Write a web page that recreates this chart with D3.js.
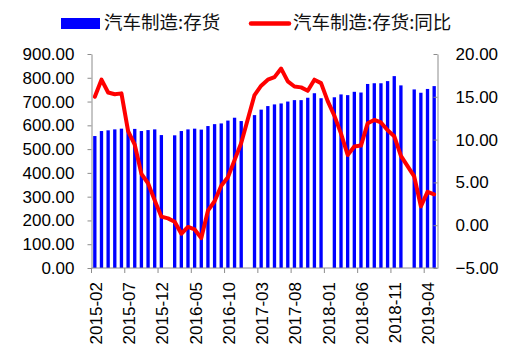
<!DOCTYPE html>
<html><head><meta charset="utf-8">
<script src="https://cdn.jsdelivr.net/npm/d3@7"></script>
<style>html,body{margin:0;padding:0;background:#fff;}svg{display:block;}</style>
</head><body>
<script>
const months = [
"2015-02","2015-03","2015-04","2015-05","2015-06","2015-07","2015-08","2015-09","2015-10","2015-11","2015-12",
"2016-01","2016-02","2016-03","2016-04","2016-05","2016-06","2016-07","2016-08","2016-09","2016-10","2016-11","2016-12",
"2017-01","2017-02","2017-03","2017-04","2017-05","2017-06","2017-07","2017-08","2017-09","2017-10","2017-11","2017-12",
"2018-01","2018-02","2018-03","2018-04","2018-05","2018-06","2018-07","2018-08","2018-09","2018-10","2018-11","2018-12",
"2019-01","2019-02","2019-03","2019-04","2019-05"];
const inventory = [
555,576,579,583,586,581,585,576,580,583,559,
null,558,576,583,586,582,597,605,608,620,632,618,
null,643,666,681,688,692,700,706,706,716,735,714,
null,718,730,727,741,738,774,777,777,786,807,768,
null,751,737,753,765];
const yoy = [
15.0,17.0,15.5,15.3,15.4,11.0,9.4,6.0,4.9,2.9,1.0,
0.8,0.4,-1.0,-0.2,-0.5,-1.5,1.7,2.8,4.6,5.6,7.6,9.6,
12.4,15.2,16.3,17.0,17.3,18.3,16.8,16.2,16.1,15.7,17.0,16.6,
14.5,12.8,10.7,8.2,9.2,9.3,11.9,12.3,12.0,11.1,10.4,8.1,
6.9,5.7,2.2,3.9,3.6];
const leftTicks = [0,100,200,300,400,500,600,700,800,900];
const rightTicks = [-5,0,5,10,15,20];
const xTickLabels = ["2015-02","2015-07","2015-12","2016-05","2016-10","2017-03","2017-08","2018-01","2018-06","2018-11","2019-04"];
const seriesNames = ["汽车制造:存货","汽车制造:存货:同比"];

const W = 510, H = 361;
const svg = d3.select("body").append("svg").attr("width", W).attr("height", H);
svg.append("rect").attr("width", W).attr("height", H).attr("fill", "#fff");

const x0 = 91.5, x1 = 437.5, yTop = 54, yBot = 268;
const x = d3.scaleBand().domain(months).range([x0, x1]).paddingInner(0.5).paddingOuter(0.25);
const step = x.step();
const yL = d3.scaleLinear().domain([0, 900]).range([yBot, yTop]);
const yR = d3.scaleLinear().domain([-5, 20]).range([yBot, yTop]);
const numFont = "'Liberation Sans', Arial, sans-serif";
const axisColor = "#8c8c8c";

// bars
svg.append("g").selectAll("rect")
  .data(months.map((m, i) => ({m, v: inventory[i]})).filter(d => d.v != null))
  .join("rect")
  .attr("x", d => x(d.m))
  .attr("width", x.bandwidth())
  .attr("y", d => yL(d.v))
  .attr("height", d => yBot - yL(d.v))
  .attr("fill", "#0000ff");

// left axis
const gL = svg.append("g").attr("transform", `translate(${x0},0)`)
  .call(d3.axisLeft(yL).tickValues(leftTicks).tickFormat(d3.format(".2f")).tickSize(4).tickSizeOuter(0).tickPadding(13));
gL.selectAll("path,line").attr("stroke", axisColor);
gL.selectAll("text").attr("font-family", numFont).attr("font-size", 17).attr("fill", "#000");

// right axis
const gR = svg.append("g").attr("transform", `translate(${x1},0)`)
  .call(d3.axisRight(yR).tickValues(rightTicks).tickFormat(d3.format(".2f")).tickSize(-4).tickSizeOuter(0).tickPadding(18));
gR.selectAll("path,line").attr("stroke", axisColor);
gR.selectAll("text").attr("font-family", numFont).attr("font-size", 17).attr("fill", "#000");

// x axis
const gX = svg.append("g");
gX.append("line").attr("x1", x0).attr("x2", x1).attr("y1", yBot).attr("y2", yBot).attr("stroke", axisColor);
const xt = gX.selectAll("g.t").data(xTickLabels).join("g").attr("class", "t");
xt.append("line")
  .attr("x1", d => x(d) - (step - x.bandwidth()) / 2)
  .attr("x2", d => x(d) - (step - x.bandwidth()) / 2)
  .attr("y1", yBot).attr("y2", yBot + 5).attr("stroke", axisColor);
xt.append("text")
  .attr("transform", d => `translate(${x(d) + x.bandwidth() / 2 + 1},282) rotate(-90)`)
  .attr("text-anchor", "end").attr("dy", "0.35em")
  .attr("font-family", numFont).attr("font-size", 17).attr("fill", "#000")
  .text(d => d);

// line
const line = d3.line().x((d, i) => x(months[i]) + x.bandwidth() / 2).y(d => yR(d)).curve(d3.curveLinear);
svg.append("path").datum(yoy).attr("d", line)
  .attr("fill", "none").attr("stroke", "#ff0000").attr("stroke-width", 4)
  .attr("stroke-linejoin", "round").attr("stroke-linecap", "round");

// legend
const cjk = "'Noto Sans CJK SC', sans-serif";
const lg = svg.append("g");
lg.append("rect").attr("x", 61).attr("y", 18).attr("width", 39).attr("height", 11).attr("fill", "#0000ff");
lg.append("text").attr("x", 104).attr("y", 23).attr("dy", "0.35em").attr("font-family", cjk)
  .attr("font-size", 18.5).attr("fill", "#111").text(seriesNames[0]);
lg.append("line").attr("x1", 251).attr("x2", 289).attr("y1", 23.5).attr("y2", 23.5)
  .attr("stroke", "#ff0000").attr("stroke-width", 4.5).attr("stroke-linecap", "round");
lg.append("text").attr("x", 293).attr("y", 23).attr("dy", "0.35em").attr("font-family", cjk)
  .attr("font-size", 18.5).attr("fill", "#111").text(seriesNames[1]);
</script>
</body></html>
